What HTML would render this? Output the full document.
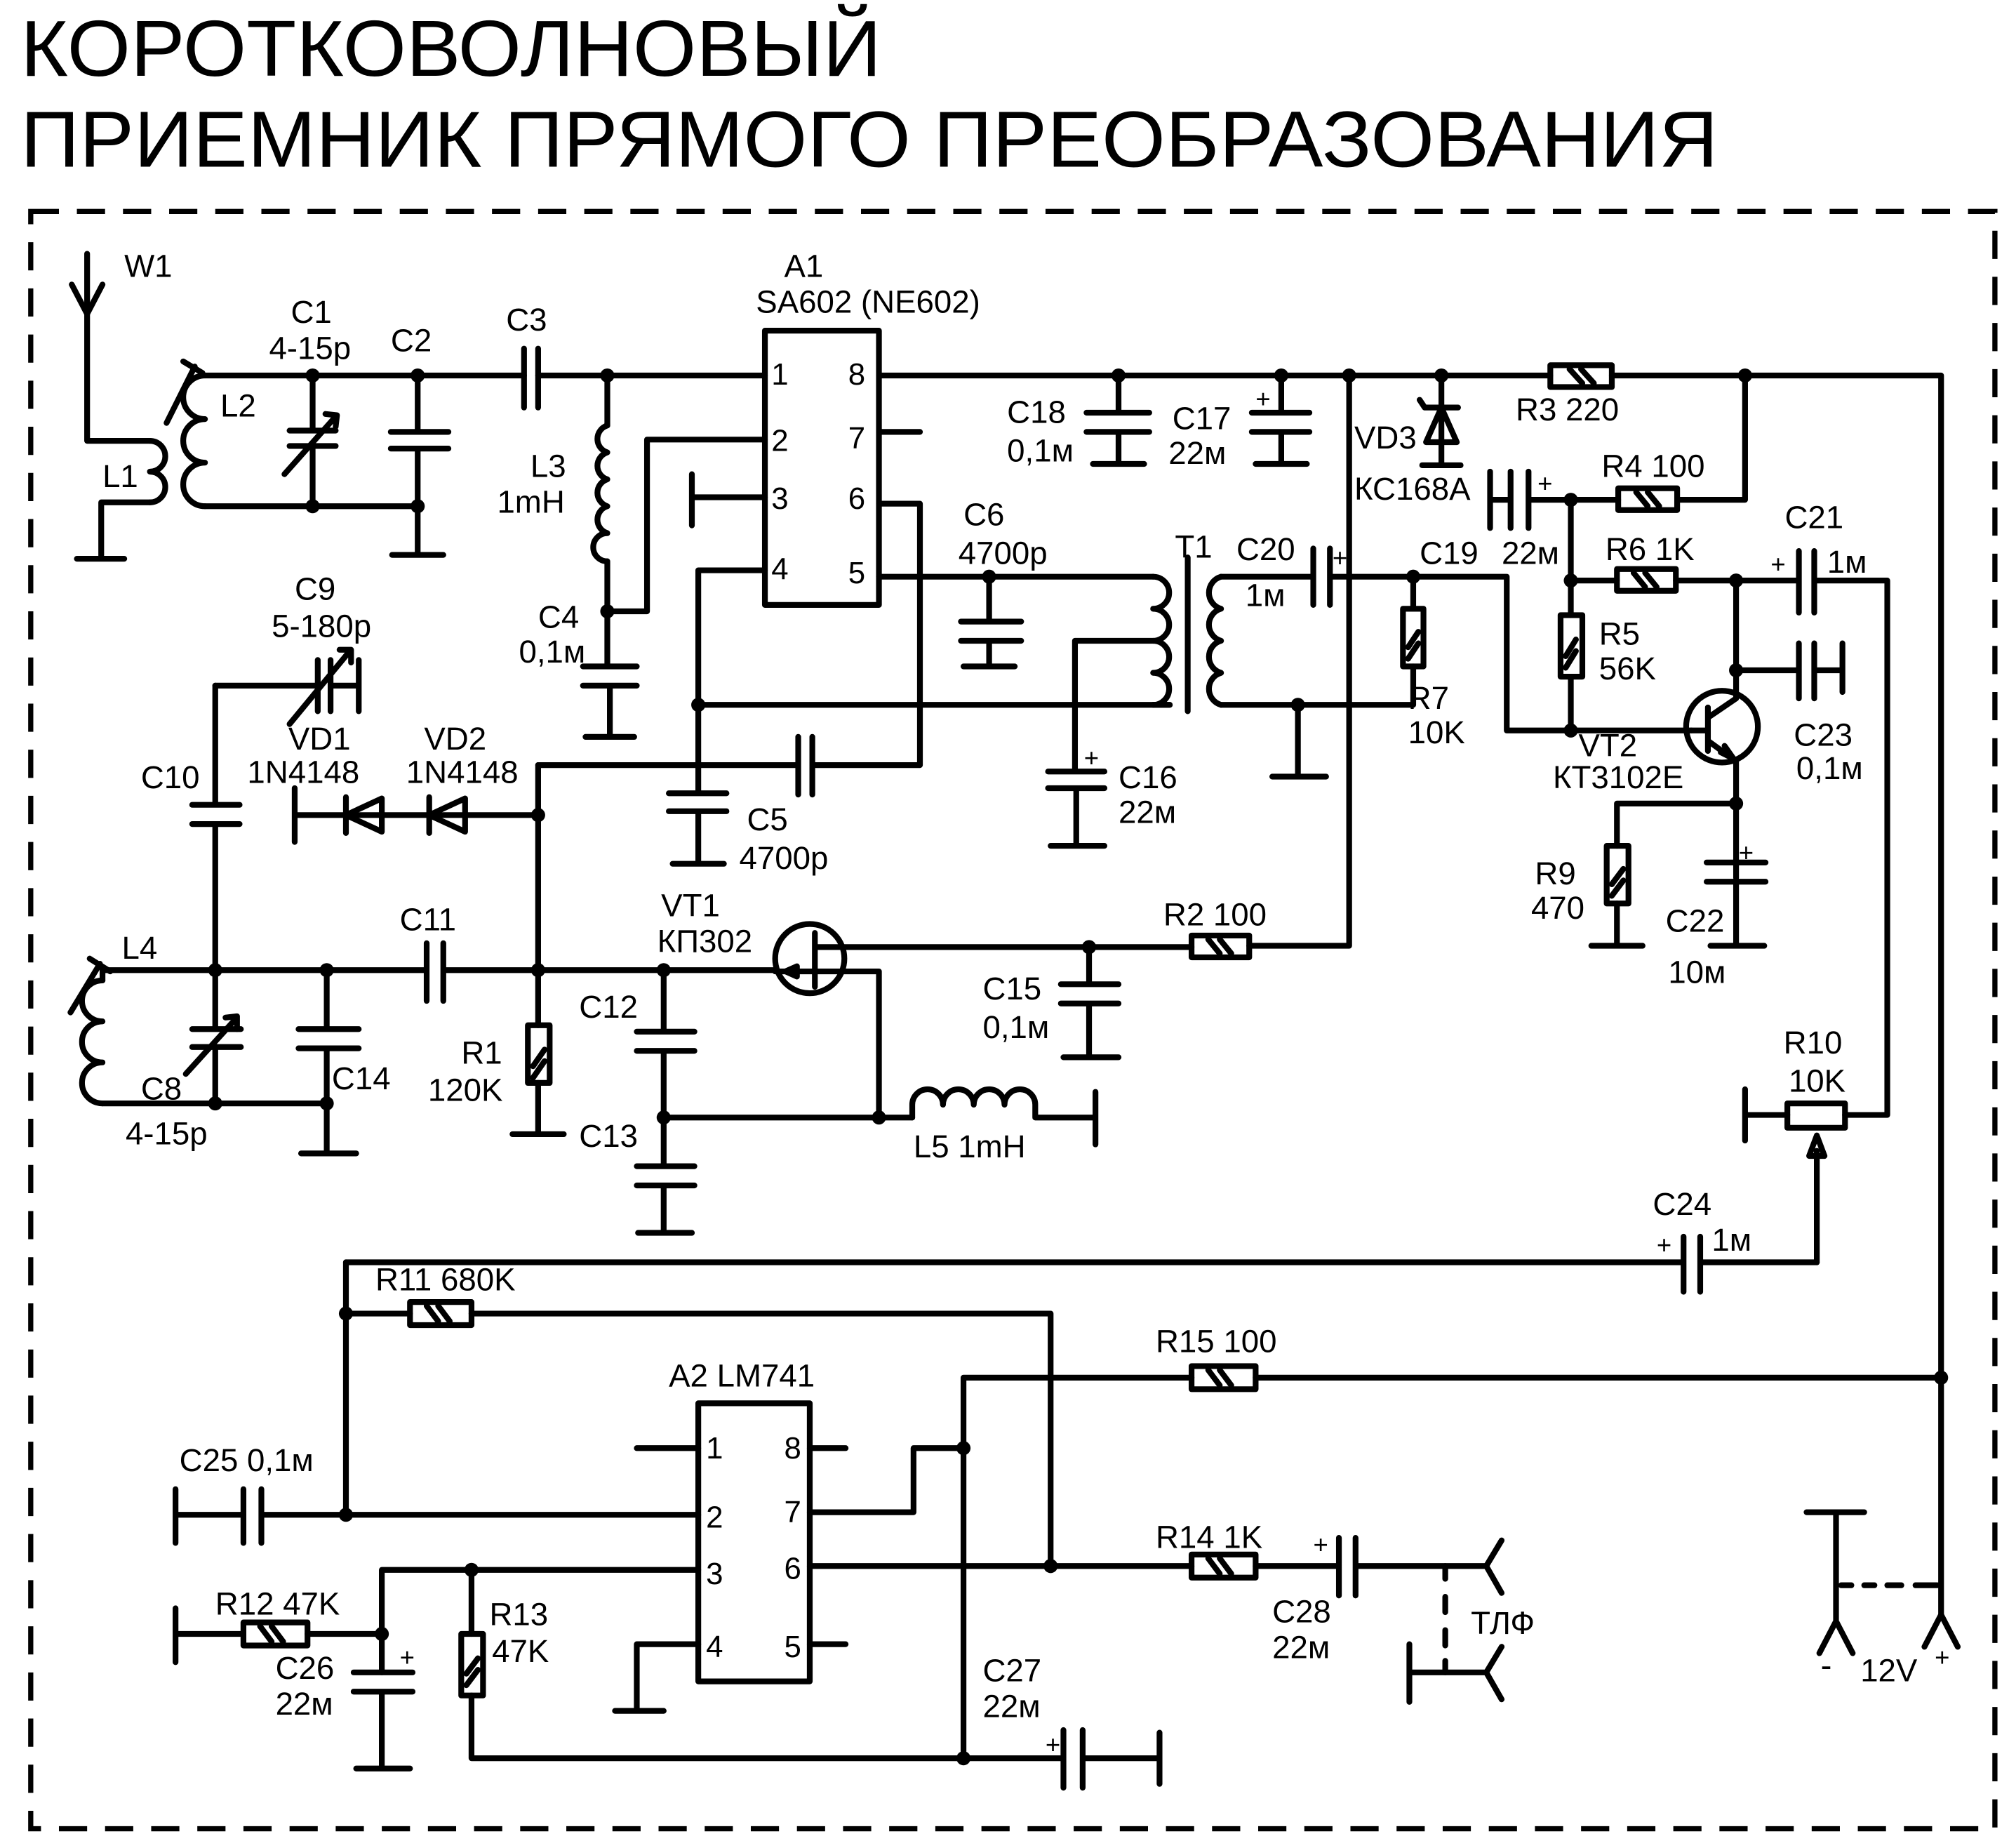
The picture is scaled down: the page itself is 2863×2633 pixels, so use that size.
<!DOCTYPE html>
<html><head><meta charset="utf-8"><style>
html,body{margin:0;padding:0;background:#fff;}
svg{display:block;}
text{font-family:"Liberation Sans Narrow","Liberation Sans",sans-serif;fill:#000;}
</style></head><body>
<svg width="2863" height="2633" viewBox="0 0 1568 1442" xmlns="http://www.w3.org/2000/svg">
<g font-size="27">
<text x="16" y="59" font-size="62" textLength="672" lengthAdjust="spacingAndGlyphs">КОРОТКОВОЛНОВЫЙ</text>
<text x="16" y="130" font-size="62" textLength="1325" lengthAdjust="spacingAndGlyphs">ПРИЕМНИК ПРЯМОГО ПРЕОБРАЗОВАНИЯ</text>
</g>
<rect x="24" y="165" width="1533" height="1262" fill="none" stroke="#000" stroke-width="4" stroke-dasharray="22,14"/>
<g fill="none" stroke="#000" stroke-width="4.5" stroke-linecap="round" stroke-linejoin="round">
<path d="M68 198 V344 H117"/><path d="M56 222 L68 245 L80 222"/>
<path d="M117 344 a12 12 0 0 1 0 24 a12 12 0 0 1 0 24"/>
<path d="M117 392 H79 V436 M60 436 H97"/>
<path d="M244 293 H160"/><path d="M160 293 a16 16 0 0 0 0 34 a16 16 0 0 0 0 34 a16 16 0 0 0 0 34"/>
<path d="M160 395 H326"/>
<path d="M130 330 L152 286 M143 282 L158 291"/>
<path d="M244 293 H409 M420 293 H597"/>
<path d="M409 272 V318 M420 272 V318"/>
<path d="M244 293 V336 M226 336 H262 M226 348 H262 M244 348 V395"/>
<path d="M222 370 L262 325 M254 323 L263 324 L262 333"/>
<path d="M326 293 V337 M305 337 H350 M305 350 H350 M326 350 V433 M306 433 H346"/>
<path d="M474 293 V332"/><path d="M474 332 a11 11 0 0 0 0 21 a11 11 0 0 0 0 21 a11 11 0 0 0 0 21 a11 11 0 0 0 0 21 a11 11 0 0 0 0 22"/>
<path d="M474 438 V520 M455 520 H497 M455 535 H497 M476 535 V575 M457 575 H495"/>
<path d="M474 477 H505 V343 H597"/>
<rect x="597" y="258" width="89" height="214"/>
<path d="M597 388 H540 M540 370 V410"/>
<path d="M597 445 H545 V600 V619 M522 619 H567 M522 633 H567 M545 633 V674 M525 674 H565"/>
<path d="M545 550 H913"/>
<path d="M686 337 H718"/>
<path d="M686 393 H718 V597 H634 M634 575 V620 M623 575 V620 M623 597 H420"/>
<path d="M686 450 H900"/>
<path d="M772 450 V485 M750 485 H797 M750 500 H797 M772 500 V520 M752 520 H792"/>
<path d="M900 450 a12 12 0 0 1 0 25 a12 12 0 0 1 0 25 a12 12 0 0 1 0 25 a12 12 0 0 1 0 25"/>
<path d="M913 550 H900"/>
<path d="M927 435 V555"/>
<path d="M953 450 a13 13 0 0 0 0 25 a13 13 0 0 0 0 25 a13 13 0 0 0 0 25 a13 13 0 0 0 0 25"/>
<path d="M900 500 H839 V602 M818 602 H862 M818 615 H862 M840 615 V660 M820 660 H862"/>
<path d="M953 450 H1025 M1025 428 V472 M1038 428 V472 M1038 450 H1176 V570 H1320"/>
<path d="M953 550 H1103 V520 M1103 450 V475 M1013 550 V606 M993 606 H1035"/>
<rect x="1095" y="475" width="16" height="45"/><path d="M1099 505 L1107 493 M1099 514 L1107 502"/>
<path d="M686 293 H1210 M1258 293 H1515 V1260"/>
<rect x="1210" y="285" width="48" height="17"/><path d="M1225 288 L1235 299 M1234 288 L1244 299"/>
<path d="M873 293 V322 M848 322 H897 M848 337 H897 M873 337 V362 M853 362 H893"/>
<path d="M1000 293 V322 M977 322 H1022 M977 337 H1022 M1000 337 V362 M980 362 H1020"/>
<path d="M1053 293 V738 H975"/>
<path d="M1125 293 V363 M1110 363 H1140 M1112 318 H1138 M1112 318 L1108 312 M1113 345 L1125 318 L1137 345 Z"/>
<path d="M1163 368 V412 M1163 390 H1179 M1179 368 V412 M1193 368 V412 M1193 390 H1263"/>
<rect x="1263" y="381" width="46" height="17"/><path d="M1277 384 L1286 395 M1286 384 L1295 395"/>
<path d="M1309 390 H1362 V293"/>
<path d="M1226 390 V480 M1226 528 V570"/>
<rect x="1218" y="480" width="17" height="48"/><path d="M1222 512 L1230 499 M1222 521 L1230 508"/>
<path d="M1226 453 H1262 M1308 453 H1404 M1404 430 V478 M1416 430 V478 M1416 453 H1473 V870 H1440"/>
<rect x="1262" y="444" width="46" height="17"/><path d="M1275 447 L1284 458 M1284 447 L1293 458"/>
<path d="M1355 453 V545"/>
<path d="M1355 523 H1404 M1404 502 V545 M1416 502 V545 M1416 523 H1438 M1438 502 V540"/>
<circle cx="1344" cy="567" r="28"/>
<path d="M1320 570 H1333 M1333 552 V586 M1333 560 L1355 545 M1333 578 L1355 594 V685"/>
<path d="M1343 587 L1353 592 L1346 582"/>
<path d="M1355 627 H1262 V660 M1262 705 V738 M1242 738 H1282"/>
<rect x="1254" y="660" width="17" height="45"/><path d="M1258 690 L1267 678 M1258 699 L1267 687"/>
<path d="M1332 673 H1378 M1332 688 H1378 M1355 688 V738 M1335 738 H1377"/>
<path d="M1362 850 V890 M1362 870 H1395"/>
<rect x="1395" y="861" width="45" height="19"/>
<path d="M1418 985 V898 M1412 902 L1418 886 L1424 902 Z"/>
<path d="M270 985 H1314 M1314 965 V1008 M1327 965 V1008 M1327 985 H1418"/>
<path d="M168 535 H248 M248 515 V555 M258 515 V555 M258 535 H280 M280 515 V555"/>
<path d="M226 565 L273 508 M265 507 L274 507 L274 517"/>
<path d="M168 535 V628 M150 628 H187 M150 643 H187 M168 643 V757"/>
<path d="M230 615 V657 M230 636 H420"/>
<path d="M270 636 L298 623 V649 Z M270 622 V650"/>
<path d="M335 636 L363 623 V649 Z M335 622 V650"/>
<path d="M420 597 V800 M420 845 V885 M400 885 H440"/>
<rect x="412" y="800" width="17" height="45"/><path d="M416 832 L425 819 M416 841 L425 828"/>
<path d="M80 757 H333 M333 736 V781 M346 736 V781 M346 757 H605"/>
<path d="M80 765 a15 15 0 0 0 0 32 a15 15 0 0 0 0 32 a15 15 0 0 0 0 32"/>
<path d="M80 757 V765 M80 861 H255"/>
<path d="M55 790 L78 752 M70 748 L86 758"/>
<path d="M168 757 V803 M150 803 H188 M150 817 H188 M168 817 V861"/>
<path d="M145 838 L184 795 M176 794 L185 793 L185 803"/>
<path d="M255 757 V803 M233 803 H280 M233 818 H280 M255 818 V900 M235 900 H278"/>
<path d="M518 757 V805 M497 805 H542 M497 820 H542 M518 820 V910 M497 910 H542 M497 925 H542 M518 925 V962 M498 962 H540"/>
<path d="M518 872 H712"/>
<circle cx="632" cy="748" r="27"/>
<path d="M636 728 V770 M636 739 H850 M605 758 H686 V872"/>
<path d="M613 758 L622 754 L622 762 Z" fill="#000"/>
<path d="M850 739 V768 M828 768 H873 M828 783 H873 M850 783 V825 M830 825 H873"/>
<path d="M850 739 H930"/>
<rect x="930" y="730" width="45" height="17"/><path d="M943 733 L952 744 M952 733 L961 744"/>
<path d="M712 872 V862 a12 12 0 0 1 24 0 a12 12 0 0 1 24 0 a12 12 0 0 1 24 0 a12 12 0 0 1 24 0 V872 H855 M855 852 V893"/>
<rect x="545" y="1095" width="87" height="217"/>
<path d="M497 1130 H545 M632 1130 H660 M632 1283 H660"/>
<path d="M545 1283 H497 V1335 M480 1335 H518"/>
<path d="M137 1162 V1204 M137 1182 H190 M190 1162 V1204 M204 1162 V1204 M204 1182 H545"/>
<path d="M270 985 V1182 M270 1025 H320 M368 1025 H820 V1222"/>
<rect x="320" y="1016" width="48" height="18"/><path d="M333 1019 L342 1031 M342 1019 L351 1031"/>
<path d="M632 1180 H713 V1130 H752 M752 1075 V1372 M752 1075 H930 M980 1075 H1515"/>
<rect x="930" y="1066" width="50" height="18"/><path d="M943 1069 L952 1081 M952 1069 L961 1081"/>
<path d="M632 1222 H930 M980 1222 H1045 M1045 1200 V1245 M1058 1200 V1245 M1058 1222 H1160"/>
<rect x="930" y="1213" width="50" height="18"/><path d="M943 1216 L952 1228 M952 1216 L961 1228"/>
<path d="M1160 1222 L1172 1202 M1160 1222 L1172 1243"/>
<path d="M1128 1222 V1232 M1128 1246 V1258 M1128 1272 V1284 M1128 1296 V1305" />
<path d="M1100 1283 V1328 M1100 1305 H1160 M1160 1305 L1172 1285 M1160 1305 L1172 1326"/>
<path d="M752 1372 H830 M830 1350 V1395 M845 1350 V1395 M845 1372 H905 M905 1352 V1392"/>
<path d="M545 1225 H298 V1305 M137 1255 V1297 M137 1275 H190 M240 1275 H298"/>
<rect x="190" y="1266" width="50" height="18"/><path d="M203 1269 L212 1281 M212 1269 L221 1281"/>
<path d="M276 1305 H322 M276 1320 H322 M298 1320 V1380 M278 1380 H320"/>
<path d="M368 1225 V1275 M368 1323 V1372 H752"/>
<rect x="360" y="1275" width="17" height="48"/><path d="M364 1306 L373 1294 M364 1315 L373 1303"/>
<path d="M1410 1180 H1455 M1433 1180 V1265 M1433 1265 L1420 1290 M1433 1265 L1446 1290"/>
<path d="M1515 1260 L1502 1285 M1515 1260 L1528 1285"/>
<path d="M1437 1237 H1445 M1455 1237 H1463 M1473 1237 H1484 M1495 1237 H1512"/>
</g>
<g fill="#000">
<circle cx="244" cy="293" r="5.5"/><circle cx="326" cy="293" r="5.5"/><circle cx="474" cy="293" r="5.5"/>
<circle cx="244" cy="395" r="5.5"/><circle cx="326" cy="395" r="5.5"/><circle cx="474" cy="477" r="5.5"/>
<circle cx="873" cy="293" r="5.5"/><circle cx="1000" cy="293" r="5.5"/><circle cx="1053" cy="293" r="5.5"/>
<circle cx="1125" cy="293" r="5.5"/><circle cx="1362" cy="293" r="5.5"/><circle cx="772" cy="450" r="5.5"/>
<circle cx="545" cy="550" r="5.5"/><circle cx="1103" cy="450" r="5.5"/><circle cx="1013" cy="550" r="5.5"/>
<circle cx="1226" cy="390" r="5.5"/><circle cx="1226" cy="453" r="5.5"/><circle cx="1226" cy="570" r="5.5"/>
<circle cx="1355" cy="453" r="5.5"/><circle cx="1355" cy="523" r="5.5"/><circle cx="1355" cy="627" r="5.5"/>
<circle cx="420" cy="636" r="5.5"/><circle cx="168" cy="757" r="5.5"/><circle cx="255" cy="757" r="5.5"/>
<circle cx="420" cy="757" r="5.5"/><circle cx="518" cy="757" r="5.5"/><circle cx="168" cy="861" r="5.5"/>
<circle cx="255" cy="861" r="5.5"/><circle cx="518" cy="872" r="5.5"/><circle cx="686" cy="872" r="5.5"/>
<circle cx="850" cy="739" r="5.5"/><circle cx="270" cy="1025" r="5.5"/><circle cx="270" cy="1182" r="5.5"/>
<circle cx="752" cy="1130" r="5.5"/><circle cx="820" cy="1222" r="5.5"/><circle cx="1515" cy="1075" r="5.5"/>
<circle cx="368" cy="1225" r="5.5"/><circle cx="298" cy="1275" r="5.5"/><circle cx="752" cy="1372" r="5.5"/>
</g>
<g font-size="25">
<text x="97" y="216">W1</text>
<text x="227" y="252">C1</text><text x="210" y="280">4-15p</text><text x="305" y="274">C2</text><text x="395" y="258">C3</text>
<text x="172" y="325">L2</text><text x="80" y="380">L1</text>
<text x="414" y="372">L3</text><text x="388" y="400">1mH</text>
<text x="420" y="490">C4</text><text x="405" y="517">0,1м</text>
<text x="612" y="216">A1</text><text x="590" y="244">SA602 (NE602)</text>
<g font-size="24"><text x="602" y="300">1</text><text x="602" y="352">2</text><text x="602" y="397">3</text><text x="602" y="452">4</text>
<text x="662" y="300">8</text><text x="662" y="350">7</text><text x="662" y="397">6</text><text x="662" y="455">5</text></g>
<text x="786" y="330">C18</text><text x="786" y="360">0,1м</text>
<text x="915" y="335">C17</text><text x="912" y="362">22м</text><text x="980" y="318" font-size="20">+</text>
<text x="1057" y="350">VD3</text><text x="1057" y="390">КС168А</text>
<text x="1183" y="328">R3 220</text>
<text x="1250" y="372">R4 100</text>
<text x="1200" y="384" font-size="20">+</text>
<text x="1108" y="440">C19</text><text x="1172" y="440">22м</text>
<text x="1253" y="437">R6 1K</text>
<text x="1393" y="412">C21</text><text x="1426" y="447">1м</text><text x="1382" y="447" font-size="20">+</text>
<text x="1248" y="503">R5</text><text x="1248" y="530">56K</text>
<text x="1099" y="553">R7</text><text x="1099" y="580">10K</text>
<text x="1232" y="590">VT2</text><text x="1212" y="615">КТ3102Е</text>
<text x="1400" y="582">C23</text><text x="1402" y="608">0,1м</text>
<text x="1198" y="690">R9</text><text x="1195" y="717">470</text>
<text x="1300" y="727">C22</text><text x="1302" y="767">10м</text><text x="1357" y="672" font-size="20">+</text>
<text x="1392" y="822">R10</text><text x="1396" y="852">10K</text>
<text x="1290" y="948">C24</text><text x="1336" y="976">1м</text><text x="1293" y="978" font-size="20">+</text>
<text x="752" y="410">C6</text><text x="748" y="440">4700p</text>
<text x="917" y="435">T1</text><text x="965" y="437">C20</text><text x="972" y="473">1м</text>
<text x="1040" y="442" font-size="20">+</text>
<text x="873" y="615">C16</text><text x="873" y="642">22м</text><text x="846" y="598" font-size="20">+</text>
<text x="583" y="648">C5</text><text x="577" y="678">4700p</text>
<text x="230" y="468">C9</text><text x="212" y="497">5-180p</text>
<text x="225" y="585">VD1</text><text x="193" y="611">1N4148</text>
<text x="331" y="585">VD2</text><text x="317" y="611">1N4148</text>
<text x="110" y="615">C10</text>
<text x="95" y="748">L4</text>
<text x="312" y="726">C11</text>
<text x="516" y="715">VT1</text><text x="513" y="743">КП302</text>
<text x="452" y="794">C12</text>
<text x="767" y="780">C15</text><text x="767" y="810">0,1м</text>
<text x="908" y="722">R2 100</text>
<text x="360" y="830">R1</text><text x="334" y="859">120K</text>
<text x="259" y="850">C14</text>
<text x="110" y="858">C8</text><text x="98" y="893">4-15p</text>
<text x="452" y="895">C13</text>
<text x="713" y="903">L5 1mH</text>
<text x="293" y="1007">R11 680K</text>
<text x="522" y="1082">A2  LM741</text>
<g font-size="24"><text x="551" y="1138">1</text><text x="551" y="1192">2</text><text x="551" y="1236">3</text><text x="551" y="1293">4</text>
<text x="612" y="1138">8</text><text x="612" y="1188">7</text><text x="612" y="1232">6</text><text x="612" y="1293">5</text></g>
<text x="140" y="1148">C25 0,1м</text>
<text x="902" y="1055">R15 100</text>
<text x="902" y="1208">R14 1K</text><text x="1025" y="1212" font-size="20">+</text>
<text x="993" y="1266">C28</text><text x="993" y="1294">22м</text>
<text x="1148" y="1275">ТЛФ</text>
<text x="168" y="1260">R12 47K</text>
<text x="382" y="1268">R13</text><text x="384" y="1297">47K</text>
<text x="215" y="1310">C26</text><text x="215" y="1338">22м</text><text x="312" y="1300" font-size="20">+</text>
<text x="767" y="1312">C27</text><text x="767" y="1340">22м</text><text x="816" y="1368" font-size="20">+</text>
<text x="1421" y="1308" font-size="26">-</text><text x="1452" y="1312">12V</text><text x="1510" y="1300" font-size="20">+</text>
</g>
</svg>
</body></html>
